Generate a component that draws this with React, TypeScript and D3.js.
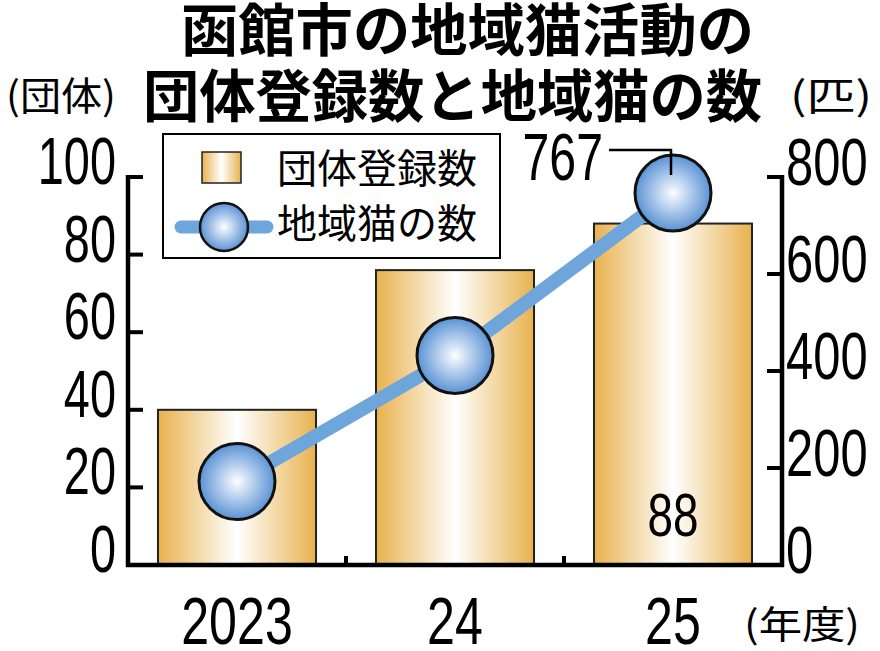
import { scaleBand, scaleLinear, line } from "d3";

const years = ["2023", "24", "25"];
const groupCounts = [40, 76, 88];
const catCounts = [172, 432, 767];
const leftTicks = [0, 20, 40, 60, 80, 100];
const rightTicks = [0, 200, 400, 600, 800];

const numFont = "'Liberation Sans', Arial, sans-serif";
const jpFont = "'Noto Sans CJK JP', sans-serif";

// condensed digits: Liberation Sans squeezed horizontally
function Num({ x, y, sx, size, anchor = "start", children }: {
  x: number; y: number; sx: number; size: number; anchor?: string; children: any;
}) {
  return (
    <text transform={`translate(${x},${y}) scale(${sx},1)`} textAnchor={anchor}
      fontFamily={numFont} fontSize={size}>{children}</text>
  );
}

export default function App() {
  const width = 880;
  const height = 651;
  const left = 128;
  const right = 782;
  const base = 565;
  const top = 177;

  const x = scaleBand<string>()
    .domain(years)
    .range([left, right])
    .paddingInner(0.275)
    .paddingOuter(0.1375);
  const yL = scaleLinear().domain([0, 100]).range([base, top]);
  const yR = scaleLinear().domain([0, 800]).range([base, top]);
  const cx = (d: string) => (x(d) ?? 0) + x.bandwidth() / 2;

  const path = line<number>()
    .x((_, i) => cx(years[i]))
    .y((d) => yR(d))(catCounts);

  const last = years.length - 1;
  const lastX = cx(years[last]);
  const lastY = yR(catCounts[last]);

  return (
    <>
      <style>{`body{margin:0}`}</style>
      <svg width={width} height={height} viewBox={`0 0 ${width} ${height}`}>
        <defs>
          <linearGradient id="barGrad" x1="0" x2="1" y1="0" y2="0">
            <stop offset="0" stopColor="#e8b24e" />
            <stop offset="0.5" stopColor="#ffffff" />
            <stop offset="1" stopColor="#e8b24e" />
          </linearGradient>
          <radialGradient id="dotGrad" cx="0.5" cy="0.5" r="0.5">
            <stop offset="0" stopColor="#ffffff" />
            <stop offset="0.2" stopColor="#dbe8f7" />
            <stop offset="1" stopColor="#5a92d4" />
          </radialGradient>
        </defs>
        <rect width={width} height={height} fill="#fff" />

        {/* title */}
        <text x={181} y={51} fontFamily={jpFont} fontWeight={700} fontSize={57}
          textLength={573} lengthAdjust="spacingAndGlyphs">函館市の地域猫活動の</text>
        <text x={143} y={117} fontFamily={jpFont} fontWeight={700} fontSize={57}
          textLength={619} lengthAdjust="spacingAndGlyphs">団体登録数と地域猫の数</text>
        <text x={6} y={110} fontFamily={jpFont} fontSize={39}
          textLength={110} lengthAdjust="spacingAndGlyphs">(団体)</text>
        <text x={790} y={110} fontFamily={jpFont} fontSize={39}
          textLength={82} lengthAdjust="spacingAndGlyphs">(匹)</text>

        {/* bars */}
        {groupCounts.map((v, i) => (
          <rect key={years[i]} x={x(years[i])} y={yL(v)} width={x.bandwidth()}
            height={base - yL(v)} fill="url(#barGrad)" stroke="#222" strokeWidth={2} />
        ))}

        {/* axes */}
        <line x1={left} x2={left} y1={top - 2} y2={base + 2} stroke="#000" strokeWidth={4.5} />
        <line x1={right} x2={right} y1={top - 2} y2={base + 2} stroke="#000" strokeWidth={4.5} />
        <line x1={left - 2} x2={right + 2} y1={base} y2={base} stroke="#000" strokeWidth={4.5} />
        {leftTicks.map((t) => (
          <g key={t}>
            <line x1={left} x2={left + 15} y1={yL(t)} y2={yL(t)} stroke="#000" strokeWidth={4} />
            <Num x={116} y={yL(t) + 7} sx={0.7} size={67} anchor="end">{t}</Num>
          </g>
        ))}
        {rightTicks.map((t) => (
          <g key={t}>
            <line x1={right - 15} x2={right} y1={yR(t)} y2={yR(t)} stroke="#000" strokeWidth={4} />
            <Num x={786} y={yR(t) + 8} sx={0.73} size={67}>{t}</Num>
          </g>
        ))}
        {years.slice(1).map((d) => {
          const px = (x(d) ?? 0) - (x.step() - x.bandwidth()) / 2;
          return <line key={d} x1={px} x2={px} y1={base - 9} y2={base} stroke="#000" strokeWidth={4} />;
        })}
        {years.map((d) => (
          <Num key={d} x={cx(d)} y={644} sx={0.76} size={66} anchor="middle">{d}</Num>
        ))}
        <text x={744} y={638} fontFamily={jpFont} fontSize={38}
          textLength={116} lengthAdjust="spacingAndGlyphs">(年度)</text>

        {/* line + dots */}
        <path d={path ?? ""} fill="none" stroke="#6ea6dc" strokeWidth={14} />
        {catCounts.map((v, i) => (
          <circle key={years[i]} cx={cx(years[i])} cy={yR(v)} r={38} fill="url(#dotGrad)"
            stroke="#111" strokeWidth={3} />
        ))}

        {/* annotations */}
        <path d={`M${lastX - 64} ${lastY - 43} H${lastX - 2} V${lastY - 18}`} fill="none"
          stroke="#000" strokeWidth={2.5} />
        <Num x={603} y={180} sx={0.72} size={67} anchor="end">{catCounts[last]}</Num>
        <Num x={lastX} y={536} sx={0.74} size={62} anchor="middle">{groupCounts[last]}</Num>

        {/* legend */}
        <rect x={163} y={134} width={337} height={124} fill="#fff" stroke="#000" strokeWidth={2} />
        <rect x={202} y={152} width={39} height={31} fill="url(#barGrad)" stroke="#222" strokeWidth={1.5} />
        <text x={277} y={183} fontFamily={jpFont} fontSize={40}>団体登録数</text>
        <line x1={181} x2={267} y1={227} y2={227} stroke="#6ea6dc" strokeWidth={13} strokeLinecap="round" />
        <circle cx={224} cy={227} r={24} fill="url(#dotGrad)" stroke="#111" strokeWidth={2.5} />
        <text x={277} y={238} fontFamily={jpFont} fontSize={40}>地域猫の数</text>
      </svg>
    </>
  );
}
